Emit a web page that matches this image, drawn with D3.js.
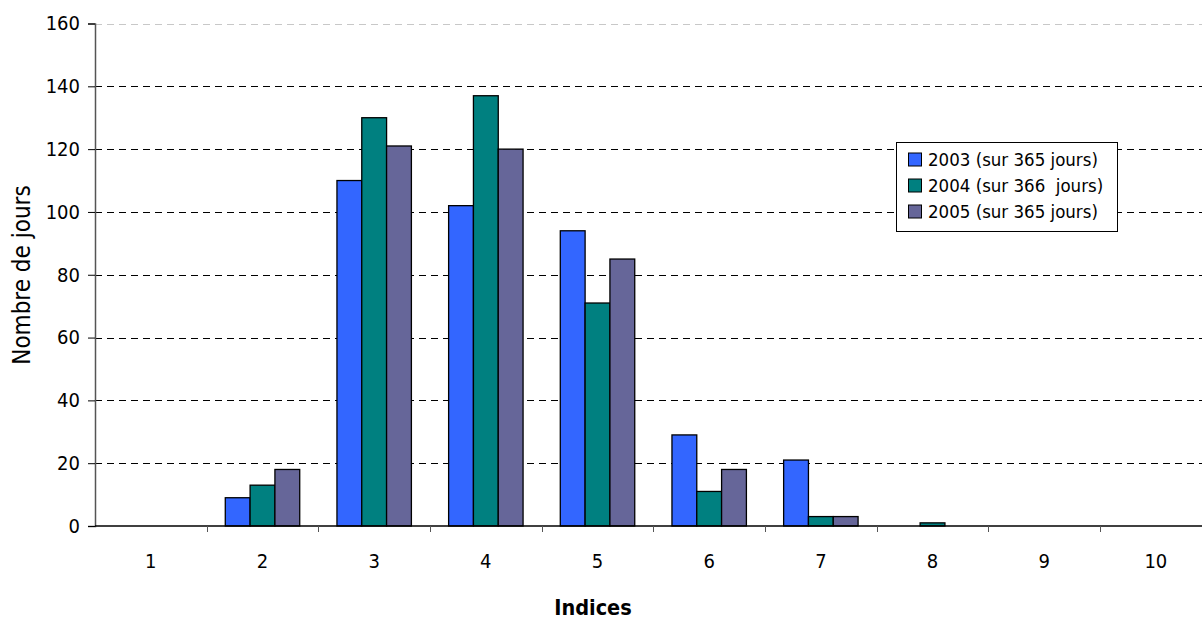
<!DOCTYPE html>
<html>
<head>
<meta charset="utf-8">
<script src="https://cdn.jsdelivr.net/npm/d3@7"></script>
<style>
  html, body { margin: 0; padding: 0; background: #fff; }
  svg { display: block; }
  text { font-family: "DejaVu Sans Condensed", "DejaVu Sans", sans-serif; font-stretch: condensed; fill: #000; }
</style>
</head>
<body>
<svg id="chart" width="1202" height="619"></svg>
<script>
// Indices (categories on the x axis)
const categories = ["1", "2", "3", "4", "5", "6", "7", "8", "9", "10"];

// Number of days per index, one array per year
const values2003 = [0, 9, 110, 102, 94, 29, 21, 0, 0, 0];
const values2004 = [0, 13, 130, 137, 71, 11, 3, 1, 0, 0];
const values2005 = [0, 18, 121, 120, 85, 18, 3, 0, 0, 0];

const seriesNames = ["2003 (sur 365 jours)", "2004 (sur 366  jours)", "2005 (sur 365 jours)"];
const seriesColors = ["#3366FF", "#008080", "#666699"];

const yTicks = [0, 20, 40, 60, 80, 100, 120, 140, 160];

const series = [values2003, values2004, values2005];

const svg = d3.select("#chart");

const plot = { left: 95, right: 1211.7, top: 23.5, bottom: 526 };

const x = d3.scaleBand()
  .domain(categories)
  .range([plot.left, plot.right])
  .padding(0);

// bars: three per group, gap between groups of 1.5 bar widths
const barW = x.bandwidth() / 4.5;
const xInner = d3.scaleBand()
  .domain(d3.range(series.length))
  .range([barW * 0.75, barW * 3.75])
  .padding(0);

const y = d3.scaleLinear()
  .domain([0, 160])
  .range([plot.bottom, plot.top]);

// horizontal dashed grid lines
svg.append("g")
  .selectAll("line")
  .data(yTicks.filter(d => d > 0))
  .join("line")
  .attr("x1", plot.left)
  .attr("x2", plot.right)
  .attr("y1", d => Math.round(y(d)) + 0.5)
  .attr("y2", d => Math.round(y(d)) + 0.5)
  .attr("stroke", d => d === 160 ? "#c8c8c8" : "#000")
  .attr("stroke-width", 1)
  .attr("stroke-dasharray", "7,5");

// bars
const groups = svg.append("g")
  .selectAll("g")
  .data(series)
  .join("g")
  .attr("fill", (d, i) => seriesColors[i]);

groups.selectAll("rect")
  .data((d, si) => d.map((v, ci) => ({ v, ci, si })))
  .join("rect")
  .filter(d => d.v > 0)
  .attr("x", d => x(categories[d.ci]) + xInner(d.si))
  .attr("width", xInner.bandwidth())
  .attr("y", d => y(d.v))
  .attr("height", d => y(0) - y(d.v))
  .attr("stroke", "#000")
  .attr("stroke-width", 1.3);

// y axis
const yAxis = d3.axisLeft(y)
  .tickValues(yTicks)
  .tickSize(7)
  .tickPadding(8)
  .tickFormat(d3.format("d"));

const gy = svg.append("g")
  .attr("transform", `translate(${plot.left},0)`)
  .call(yAxis);
gy.select(".domain").attr("stroke", "#555").attr("stroke-width", 1.5);
gy.selectAll(".tick line").attr("stroke", "#000");
gy.selectAll(".tick text").style("font-size", "20px").attr("fill", "#000");

// x axis: tick marks between categories, labels at category centres
const xAxisG = svg.append("g").attr("transform", `translate(0,${plot.bottom})`);
xAxisG.append("line")
  .attr("x1", plot.left).attr("x2", plot.right)
  .attr("y1", 0).attr("y2", 0)
  .attr("stroke", "#000").attr("stroke-width", 1.3);
xAxisG.selectAll("line.tk")
  .data(categories.slice(1))
  .join("line")
  .attr("class", "tk")
  .attr("x1", d => Math.round(x(d)) + 0.5)
  .attr("x2", d => Math.round(x(d)) + 0.5)
  .attr("y1", 0).attr("y2", 6)
  .attr("stroke", "#555");
xAxisG.selectAll("text")
  .data(categories)
  .join("text")
  .attr("x", d => x(d) + x.bandwidth() / 2)
  .attr("y", 41.5)
  .attr("text-anchor", "middle")
  .style("font-size", "20px")
  .text(d => d);

// axis titles
svg.append("text")
  .attr("x", 593)
  .attr("y", 615)
  .attr("text-anchor", "middle")
  .style("font-size", "21.5px")
  .style("font-weight", "bold")
  .text("Indices");

svg.append("text")
  .attr("transform", "translate(30,275) rotate(-90)")
  .attr("text-anchor", "middle")
  .style("font-size", "24px")
  .text("Nombre de jours");

// legend
const legend = svg.append("g").attr("transform", "translate(896.5,142.5)");
legend.append("rect")
  .attr("width", 221)
  .attr("height", 89)
  .attr("fill", "#fff")
  .attr("stroke", "#000")
  .attr("stroke-width", 1);
const rows = legend.selectAll("g.row")
  .data(seriesNames)
  .join("g")
  .attr("class", "row")
  .attr("transform", (d, i) => `translate(12,${17 + i * 26})`);
rows.append("rect")
  .attr("x", 0).attr("y", -6.5)
  .attr("width", 13).attr("height", 13)
  .attr("fill", (d, i) => seriesColors[i])
  .attr("stroke", "#000");
rows.append("text")
  .attr("x", 19.5)
  .attr("y", 6.5)
  .attr("xml:space", "preserve")
  .style("white-space", "pre")
  .style("font-size", "18.5px")
  .text(d => d);
</script>
</body>
</html>
